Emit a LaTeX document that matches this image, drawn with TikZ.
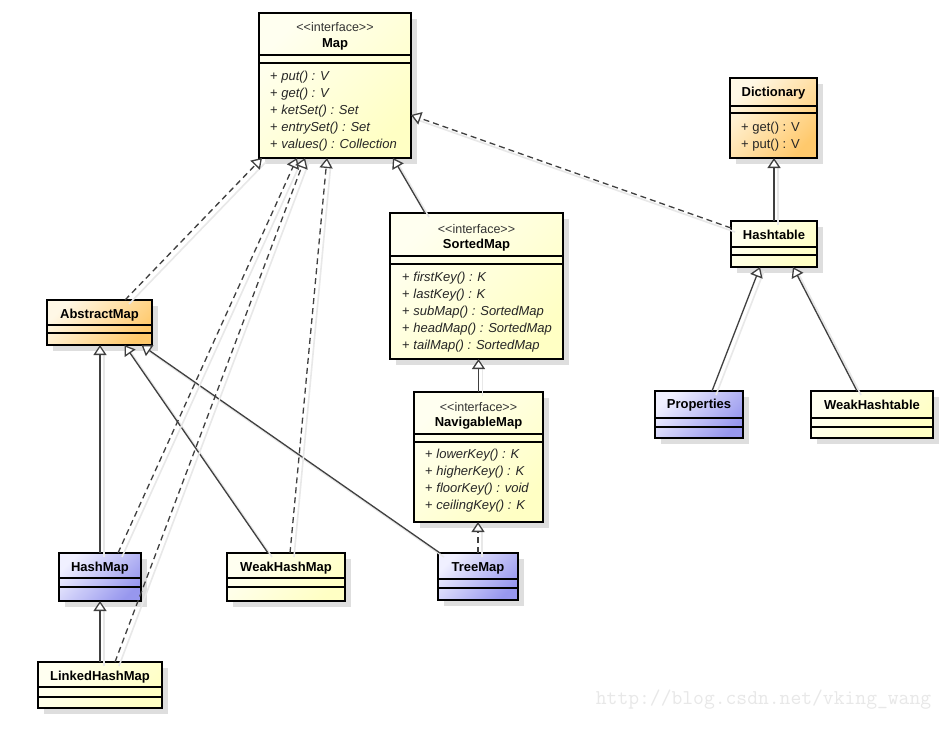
\documentclass[tikz,border=0pt]{standalone}
\usepackage{fontspec}
\setmainfont{Liberation Sans}
\usetikzlibrary{arrows.meta,shadows}
\definecolor{ylwA}{HTML}{FFFFF0}
\definecolor{ylwB}{HTML}{FFFFC4}
\definecolor{orgA}{HTML}{FFF8E6}
\definecolor{orgB}{HTML}{FFC96C}
\definecolor{bluA}{HTML}{F0F0FF}
\definecolor{bluB}{HTML}{9797EE}
\definecolor{linegray}{HTML}{404040}
\begin{document}
\begin{tikzpicture}[x=1pt,y=-1pt,
        umlbox/.style={draw=black,line width=1.8pt,outer sep=0pt,inner sep=0pt,
            general shadow={fill=black!13,shadow xshift=6pt,shadow yshift=-6pt}},
        ybox/.style={umlbox,top color=ylwA,bottom color=ylwB,shading angle=45},
        obox/.style={umlbox,top color=orgA,bottom color=orgB,shading angle=45},
        bbox/.style={umlbox,top color=bluA,bottom color=bluB,shading angle=45},
        cname/.style={inner sep=0pt,font=\fontsize{13}{16}\selectfont\bfseries},
        stereo/.style={inner sep=0pt,text=black!80,font=\fontsize{12.5}{16}\selectfont},
        ops/.style={inner sep=0pt,anchor=west,align=left,text=black!85,font=\fontsize{13}{17}\selectfont},
        sep/.style={draw=black,line width=1.2pt},
        gen/.style={draw=linegray,line width=1.3pt,-{Triangle[width=13pt,length=10pt,fill=white]},
            preaction={draw=black!9,line width=1.6pt,solid,-,transform canvas={shift={(4pt,-4pt)}}}},
        impl/.style={gen,dash pattern=on 6pt off 4pt}]
        \useasboundingbox[fill=white] (0,0) rectangle (949,731);
        %
        % connectors first, boxes on top
        \coordinate (mapS) at (335,158);
        \coordinate (mapN) at (335,13);
        %
        % boxes
        \node[ybox,minimum width=152pt,minimum height=145pt] (map) at (335,85.5) {};
        \node[stereo] (map-st) at ([yshift=-14pt]map.north) {<{}<interface>{}>};
        \node[cname] (map-nm) at ([yshift=-31pt]map.north) {Map};
        \draw[sep] ([yshift=-42pt]map.north west) -- ([yshift=-42pt]map.north east);
        \draw[sep] ([yshift=-50pt]map.north west) -- ([yshift=-50pt]map.north east);
        \node[ops] (map-ops) at ([xshift=11pt,yshift=-98pt]map.north west)
            {+ \textit{put() : V}\\+ \textit{get() : V}\\+ \textit{ketSet() : Set}\\+ \textit{entrySet() : Set}\\+ \textit{values() : Collection}};
        %
        \node[obox,minimum width=87pt,minimum height=80pt] (dictionary) at (773.5,118) {};
        \node[cname] (dictionary-nm) at ([yshift=-15pt]dictionary.north) {Dictionary};
        \draw[sep] ([yshift=-28pt]dictionary.north west) -- ([yshift=-28pt]dictionary.north east);
        \draw[sep] ([yshift=-35pt]dictionary.north west) -- ([yshift=-35pt]dictionary.north east);
        \node[ops] (dictionary-ops) at ([xshift=11pt,yshift=-58.5pt]dictionary.north west)
            {+ get() : V\\+ put() : V};
        %
        \node[ybox,minimum width=86pt,minimum height=46pt] (hashtable) at (774,244) {};
        \node[cname] (hashtable-nm) at ([yshift=-14pt]hashtable.north) {Hashtable};
        \draw[sep] ([yshift=-26pt]hashtable.north west) -- ([yshift=-26pt]hashtable.north east);
        \draw[sep] ([yshift=-34pt]hashtable.north west) -- ([yshift=-34pt]hashtable.north east);
        %
        \node[ybox,minimum width=173pt,minimum height=146pt] (sortedmap) at (476.5,286) {};
        \node[stereo] (sortedmap-st) at ([yshift=-16pt]sortedmap.north) {<{}<interface>{}>};
        \node[cname] (sortedmap-nm) at ([yshift=-32pt]sortedmap.north) {SortedMap};
        \draw[sep] ([yshift=-43pt]sortedmap.north west) -- ([yshift=-43pt]sortedmap.north east);
        \draw[sep] ([yshift=-51pt]sortedmap.north west) -- ([yshift=-51pt]sortedmap.north east);
        \node[ops] (sortedmap-ops) at ([xshift=12pt,yshift=-99.5pt]sortedmap.north west)
            {+ \textit{firstKey() : K}\\+ \textit{lastKey() : K}\\+ \textit{subMap() : SortedMap}\\+ \textit{headMap() : SortedMap}\\+ \textit{tailMap() : SortedMap}};
        %
        \node[ybox,minimum width=129pt,minimum height=130pt] (navigablemap) at (478.5,457) {};
        \node[stereo] (navigablemap-st) at ([yshift=-15pt]navigablemap.north) {<{}<interface>{}>};
        \node[cname] (navigablemap-nm) at ([yshift=-31pt]navigablemap.north) {NavigableMap};
        \draw[sep] ([yshift=-42pt]navigablemap.north west) -- ([yshift=-42pt]navigablemap.north east);
        \draw[sep] ([yshift=-50pt]navigablemap.north west) -- ([yshift=-50pt]navigablemap.north east);
        \node[ops] (navigablemap-ops) at ([xshift=11pt,yshift=-89pt]navigablemap.north west)
            {+ \textit{lowerKey() : K}\\+ \textit{higherKey() : K}\\+ \textit{floorKey() : void}\\+ \textit{ceilingKey() : K}};
        %
        \node[obox,minimum width=105pt,minimum height=45pt] (abstractmap) at (99.5,322.5) {};
        \node[cname] (abstractmap-nm) at ([yshift=-15pt]abstractmap.north) {AbstractMap};
        \draw[sep] ([yshift=-25pt]abstractmap.north west) -- ([yshift=-25pt]abstractmap.north east);
        \draw[sep] ([yshift=-33pt]abstractmap.north west) -- ([yshift=-33pt]abstractmap.north east);
        %
        \node[bbox,minimum width=82pt,minimum height=48pt] (hashmap) at (100,577) {};
        \node[cname] (hashmap-nm) at ([yshift=-15pt]hashmap.north) {HashMap};
        \draw[sep] ([yshift=-25pt]hashmap.north west) -- ([yshift=-25pt]hashmap.north east);
        \draw[sep] ([yshift=-34pt]hashmap.north west) -- ([yshift=-34pt]hashmap.north east);
        %
        \node[ybox,minimum width=118pt,minimum height=48pt] (weakhashmap) at (286,577) {};
        \node[cname] (weakhashmap-nm) at ([yshift=-15pt]weakhashmap.north) {WeakHashMap};
        \draw[sep] ([yshift=-25pt]weakhashmap.north west) -- ([yshift=-25pt]weakhashmap.north east);
        \draw[sep] ([yshift=-34pt]weakhashmap.north west) -- ([yshift=-34pt]weakhashmap.north east);
        %
        \node[bbox,minimum width=80pt,minimum height=47pt] (treemap) at (478,576.5) {};
        \node[cname] (treemap-nm) at ([yshift=-15pt]treemap.north) {TreeMap};
        \draw[sep] ([yshift=-26pt]treemap.north west) -- ([yshift=-26pt]treemap.north east);
        \draw[sep] ([yshift=-35pt]treemap.north west) -- ([yshift=-35pt]treemap.north east);
        %
        \node[ybox,minimum width=124pt,minimum height=46pt] (linkedhashmap) at (100,685) {};
        \node[cname] (linkedhashmap-nm) at ([yshift=-15pt]linkedhashmap.north) {LinkedHashMap};
        \draw[sep] ([yshift=-25pt]linkedhashmap.north west) -- ([yshift=-25pt]linkedhashmap.north east);
        \draw[sep] ([yshift=-35pt]linkedhashmap.north west) -- ([yshift=-35pt]linkedhashmap.north east);
        %
        \node[bbox,minimum width=88pt,minimum height=47pt] (properties) at (699,414.5) {};
        \node[cname] (properties-nm) at ([yshift=-14pt]properties.north) {Properties};
        \draw[sep] ([yshift=-27pt]properties.north west) -- ([yshift=-27pt]properties.north east);
        \draw[sep] ([yshift=-36pt]properties.north west) -- ([yshift=-36pt]properties.north east);
        %
        \node[ybox,minimum width=122pt,minimum height=47pt] (weakhashtable) at (872,414.5) {};
        \node[cname] (weakhashtable-nm) at ([yshift=-14pt]weakhashtable.north) {WeakHashtable};
        \draw[sep] ([yshift=-27pt]weakhashtable.north west) -- ([yshift=-27pt]weakhashtable.north east);
        \draw[sep] ([yshift=-36pt]weakhashtable.north west) -- ([yshift=-36pt]weakhashtable.north east);
        %
        % generalization and realization
        \draw[gen] ([xshift=-51.5pt]sortedmap.north) -- ([xshift=58pt]map.south);
        \draw[impl] ([yshift=-7pt]hashtable.north west) -- ([yshift=-29.5pt]map.east);
        \draw[gen] (hashtable.north) -- (hashtable.north |- dictionary.south);
        \draw[gen] ([xshift=13pt]properties.north) -- ([xshift=-14pt]hashtable.south);
        \draw[gen] ([xshift=-15pt]weakhashtable.north) -- ([xshift=19pt]hashtable.south);
        \draw[gen] (navigablemap.north) -- (navigablemap.north |- sortedmap.south);
        \draw[impl] (treemap.north) -- (treemap.north |- navigablemap.south);
        %
        \draw[impl] ([xshift=25.5pt]abstractmap.north) -- ([xshift=3pt]map.south west);
        \draw[gen] (hashmap.north) -- (hashmap.north |- abstractmap.south);
        \draw[gen] ([xshift=-18pt]weakhashmap.north) -- ([xshift=25pt]abstractmap.south);
        \draw[gen] ([xshift=-38pt]treemap.north) -- ([xshift=42pt]abstractmap.south);
        \draw[impl] ([xshift=18pt]hashmap.north) -- ([xshift=-38pt]map.south);
        \draw[impl] ([xshift=15pt]linkedhashmap.north) -- ([xshift=-30pt]map.south);
        \draw[impl] ([xshift=4pt]weakhashmap.north) -- ([xshift=-8pt]map.south);
        \draw[gen] (linkedhashmap.north) -- (linkedhashmap.north |- hashmap.south);
        %
        \node[text=black!9,font=\fontsize{21}{24}\selectfont\ttfamily] (watermark) at (763.5,700) {http://blog.csdn.net/vking\_wang};
    \end{tikzpicture}
\end{document}
